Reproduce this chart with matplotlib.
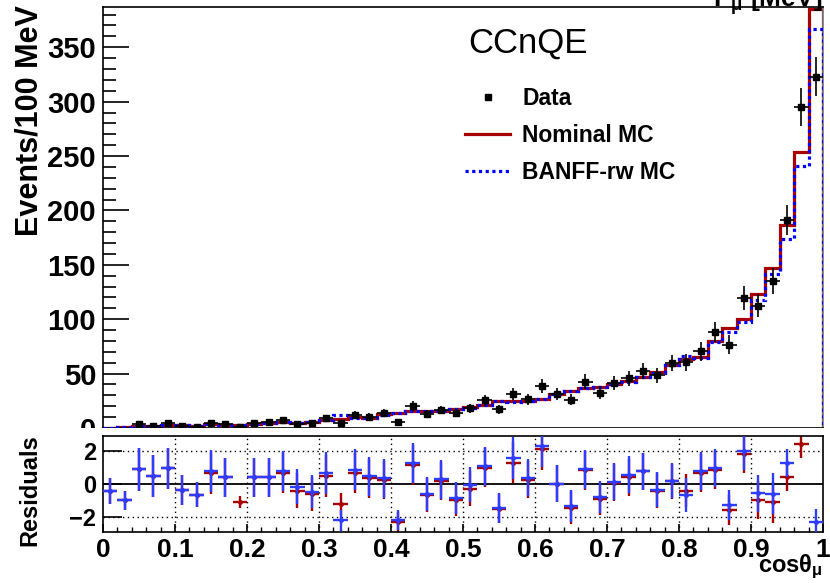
import numpy as np
import matplotlib
matplotlib.use("Agg")
import matplotlib.pyplot as plt
from matplotlib.lines import Line2D
from matplotlib.patches import Rectangle
from matplotlib.ticker import MultipleLocator, FixedLocator

# 50 bins of 0.02 in cos(theta_mu)
bin_edges = np.linspace(0.0, 1.0, 51)
cos_centres = 0.5 * (bin_edges[:-1] + bin_edges[1:])

nominal_mc = [0.2, 1.0, 2.1, 1.5, 2.7, 2.5, 2.1, 3.6, 2.8, 2.5,
              4.1, 5.0, 5.4, 4.6, 5.7, 7.8, 8.4, 9.7, 9.5, 12.5,
              14.0, 15.5, 15.5, 16.0, 17.5, 19.0, 21.0, 24.5, 25.0, 25.0,
              27.0, 31.5, 34.0, 37.0, 38.0, 40.7, 43.2, 47.0, 51.2, 58.2,
              63.7, 65.0, 80.4, 92.0, 100.5, 123.0, 147.0, 187.0, 254.0, 385.0]

banff_mc = [0.2, 1.0, 2.1, 1.5, 2.7, 2.5, 2.1, 3.4, 2.8, 3.0,
            4.1, 5.0, 5.2, 4.4, 5.6, 7.6, 11.5, 9.4, 9.3, 12.3,
            13.9, 15.3, 15.3, 15.8, 17.3, 18.5, 20.8, 24.4, 24.0, 24.8,
            26.6, 31.5, 33.7, 36.8, 37.6, 40.3, 42.2, 47.0, 51.0, 58.0,
            66.0, 64.0, 79.0, 88.6, 97.0, 118.0, 142.0, 174.0, 241.0, 367.0]

data_events = [np.nan, np.nan, 3.4, 2.1, 4.3, 2.0, 1.2, 4.9, 3.4, 1.0,
               4.9, 5.9, 7.0, 3.7, 4.3, 9.2, 4.9, 11.8, 10.5, 13.5,
               5.5, 20.0, 13.0, 16.5, 13.5, 18.0, 25.5, 17.2, 31.4, 26.5,
               38.7, 31.4, 25.8, 42.7, 32.6, 41.2, 45.8, 52.6, 48.3, 59.7,
               60.6, 70.4, 88.0, 76.6, 119.6, 112.5, 135.0, 191.0, 295.0, 323.0]

resid_nominal = [-0.44, -1.0, 0.9, 0.5, 0.95, -0.34, -0.65, 0.67, 0.4, -1.1,
                 0.4, 0.4, 0.67, -0.4, -0.6, 0.5, -1.2, 0.67, 0.34, 0.26,
                 -2.3, 1.15, -0.69, 0.18, -0.99, -0.28, 0.99, -1.5, 1.3, 0.26,
                 2.14, 0.02, -1.43, 0.83, -0.93, 0.08, 0.4, 0.77, -0.4, 0.16,
                 -0.4, 0.67, 0.85, -1.58, 1.8, -0.97, -1.1, 0.44, 2.4, np.nan]

resid_banff = [-0.44, -1.0, 0.9, 0.5, 0.95, -0.34, -0.65, 0.8, 0.4, np.nan,
               0.4, 0.4, 0.8, -0.16, -0.46, 0.67, -2.2, 0.87, 0.46, 0.34,
               -2.2, 1.27, -0.59, 0.28, -0.85, -0.04, 1.07, -1.45, 1.58, 0.38,
               2.3, 0.02, -1.33, 0.89, -0.8, 0.14, 0.57, 0.77, -0.34, 0.2,
               -0.67, 0.81, 0.97, -1.27, 2.02, -0.57, -0.6, 1.27, np.nan, -2.32]

resid_err = [0.79, 0.57, 1.31, 1.26, 1.26, 0.91, 0.76, 1.26, 1.18, 0.35,
             1.16, 1.16, 1.23, 1.06, 1.01, 1.26, 0.65, 1.23, 1.2, 1.16,
             0.6, 1.23, 1.03, 1.16, 0.96, 1.06, 1.19, 0.89, 1.26, 1.11,
             1.27, 1.11, 0.98, 1.19, 0.96, 1.11, 1.11, 1.11, 1.04, 1.06,
             1.01, 1.16, 1.13, 0.91, 1.16, 1.13, 1.24, 0.86, 0.81, 0.81]

plt.rcParams['font.family'] = ['Liberation Sans', 'DejaVu Sans']
plt.rcParams['font.weight'] = 'bold'
plt.rcParams['mathtext.fontset'] = 'custom'
plt.rcParams['mathtext.rm'] = 'Liberation Sans:bold'
plt.rcParams['mathtext.it'] = 'Liberation Sans:bold'
plt.rcParams['mathtext.bf'] = 'Liberation Sans:bold'

W, H = 830, 583
fig = plt.figure(figsize=(W / 100, H / 100), dpi=100)

def fx(px):
    return px / W

def fy(px):
    return 1 - px / H

# pixel frame of the two pads
left, right = 103, 823
top_pad = (7, 428)
res_pad = (436, 532)

ax = fig.add_axes([fx(left), fy(top_pad[1]), fx(right - left), (top_pad[1] - top_pad[0]) / H], zorder=0)
# lower pad hides the bottom of the upper pad, as in ROOT
fig.patches.append(Rectangle((0, 0), 1, fy(top_pad[1]), transform=fig.transFigure,
                             facecolor='white', edgecolor='none', zorder=1))
axr = fig.add_axes([fx(left), fy(res_pad[1]), fx(right - left), (res_pad[1] - res_pad[0]) / H], zorder=2)

red = '#a80000'
blue = '#0000ff'
rblue = '#2d3cff'

# --- upper pad ---
ax.stairs(nominal_mc, bin_edges, color=red, lw=2.3, zorder=2)
ax.stairs(banff_mc, bin_edges, color=blue, lw=2.3, ls=(0, (1, 1.1)), zorder=3)
data_arr = np.array(data_events)
ax.errorbar(cos_centres, data_arr, yerr=np.sqrt(data_arr), xerr=0.01, fmt='s', color='black',
            ms=5, lw=1.2, capsize=0, zorder=4)

ax.set_xlim(0, 1)
ax.set_ylim(0, 387)
ax.yaxis.set_major_locator(MultipleLocator(50))
ax.yaxis.set_minor_locator(MultipleLocator(10))
ax.tick_params(axis='y', which='major', direction='in', length=19, width=1.2, labelsize=21, pad=5)
ax.tick_params(axis='y', which='minor', direction='in', length=9.5, width=1.2)
ax.tick_params(axis='x', which='both', bottom=False, labelbottom=False)
for sp in ax.spines.values():
    sp.set_linewidth(1.2)
ax.spines['right'].set_color('#777777')

ax.text(0.59, 0.914, 'CCnQE', transform=ax.transAxes, ha='center', va='center',
        fontsize=25, fontweight='normal')

handles = [Line2D([], [], marker='s', ls='none', color='black', ms=5),
           Line2D([], [], color=red, lw=2.3),
           Line2D([], [], color=blue, lw=2.3, ls=(0, (1, 1.1)))]
ax.legend(handles, ['Data', 'Nominal MC', 'BANFF-rw MC'], loc='upper left',
          bbox_to_anchor=(0.503, 0.81), frameon=False, fontsize=16.5,
          handlelength=1.95, handletextpad=0.55, labelspacing=0.62,
          borderpad=0, borderaxespad=0)

# --- residual pad ---
axr.axhline(0, color='black', lw=1.3, zorder=1)
for yv in (-2, 2):
    axr.axhline(yv, color='black', lw=1.0, ls=(0, (1, 2.5)), zorder=1)
for xv in np.arange(0.1, 0.95, 0.1):
    axr.axvline(xv, color='black', lw=1.0, ls=(0, (1, 2.5)), zorder=1)

axr.errorbar(cos_centres, resid_nominal, yerr=resid_err, xerr=0.01, fmt='o', color=red,
             ms=2.5, lw=1.7, capsize=0, zorder=2)
axr.errorbar(cos_centres, resid_banff, yerr=resid_err, xerr=0.01, fmt='o', color=rblue,
             ms=2.5, lw=1.7, capsize=0, zorder=3)

axr.set_xlim(0, 1)
axr.set_ylim(-2.91, 2.91)
axr.yaxis.set_major_locator(FixedLocator([-2, 0, 2]))
axr.xaxis.set_major_locator(MultipleLocator(0.1))
axr.xaxis.set_minor_locator(MultipleLocator(0.02))
axr.xaxis.set_major_formatter(plt.FuncFormatter(lambda v, p: '%g' % round(v, 1)))
axr.tick_params(axis='y', which='major', direction='in', length=14, width=1.2, labelsize=17, pad=5)
axr.tick_params(axis='x', which='major', direction='in', length=6, width=1.2, labelsize=19, pad=4)
axr.tick_params(axis='x', which='minor', direction='in', length=3.5, width=1.0)
for sp in axr.spines.values():
    sp.set_linewidth(1.2)

# axis titles
fig.text(fx(30), fy(121), 'Events/100 MeV', rotation=90, ha='center', va='center', fontsize=22)
fig.text(fx(30), fy(490), 'Residuals', rotation=90, ha='center', va='center', fontsize=17)
fig.text(fx(822), fy(567), r'cos$\theta_{\mu}$', ha='right', va='center', fontsize=17)
# title of the pad above, cut by the frame edge
fig.text(fx(822), fy(7), r'P$_{\mu}$ [MeV]', ha='right', va='baseline', fontsize=19)

fig.savefig('out.png', dpi=100)
